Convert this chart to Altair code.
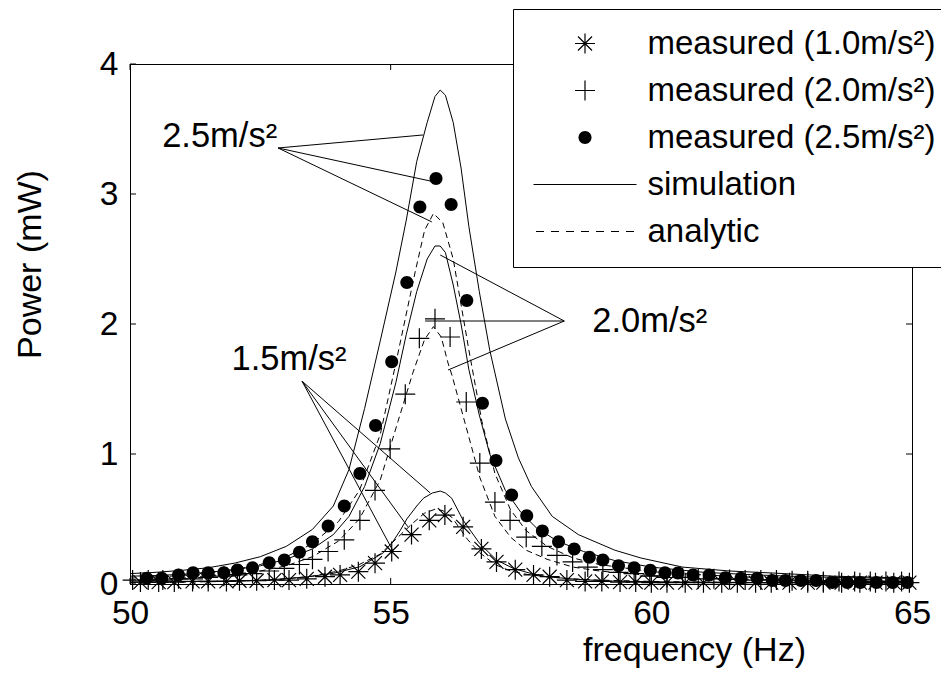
import altair as alt
import pandas as pd

# ---------------- data ----------------
# simulation curves (solid)
sim25_f = [50.0, 50.5, 51.0, 51.5, 52.0, 52.5, 53.0, 53.5, 53.9, 54.2, 54.5, 54.8, 55.1, 55.3, 55.5, 55.7, 55.85, 55.95,
           56.05, 56.2, 56.35, 56.5, 56.7, 56.9, 57.2, 57.45, 57.7, 58.1, 58.6, 59.3, 59.8, 60.6, 61.5, 62.3, 63.5, 65.0]
sim25_p = [0.08, 0.09, 0.105, 0.125, 0.16, 0.21, 0.29, 0.42, 0.6, 0.88, 1.35, 1.87, 2.4, 2.8, 3.25, 3.55, 3.75, 3.8,
           3.76, 3.55, 3.2, 2.75, 2.25, 1.8, 1.27, 0.97, 0.75, 0.52, 0.38, 0.26, 0.2, 0.13, 0.1, 0.085, 0.06, 0.045]

sim20_f = [50.0, 50.5, 51.0, 51.5, 52.0, 52.5, 53.0, 53.5, 53.9, 54.2, 54.5, 54.8, 55.1, 55.3, 55.5, 55.7, 55.85, 55.95,
           56.05, 56.2, 56.35, 56.5, 56.7, 56.9, 57.2, 57.5, 57.8, 58.2, 58.7, 59.3, 60.0, 61.0, 62.0, 63.0, 65.0]
sim20_p = [0.06, 0.065, 0.075, 0.09, 0.11, 0.14, 0.19, 0.27, 0.38, 0.52, 0.75, 1.08, 1.55, 1.92, 2.25, 2.5, 2.6, 2.6,
           2.55, 2.3, 2.0, 1.65, 1.3, 1.0, 0.72, 0.55, 0.43, 0.33, 0.25, 0.18, 0.13, 0.09, 0.07, 0.055, 0.04]

sim10_f = [50.0, 51.0, 52.0, 52.63, 53.4, 53.9, 54.41, 54.86, 55.05, 55.18, 55.31, 55.5, 55.63, 55.8, 55.95, 56.05,
           56.17, 56.39, 56.71, 57.03, 57.35, 57.7, 57.99, 58.6, 59.27, 60.5, 62.0, 65.0]
sim10_p = [0.015, 0.018, 0.024, 0.03, 0.055, 0.082, 0.133, 0.24, 0.33, 0.41, 0.5, 0.6, 0.66, 0.7, 0.715, 0.7,
           0.66, 0.49, 0.31, 0.185, 0.12, 0.08, 0.056, 0.035, 0.022, 0.015, 0.012, 0.008]

# analytic curves (dashed)
ana25_f = [50.0, 51.0, 52.0, 52.5, 53.0, 53.5, 54.0, 54.4, 54.8, 55.1, 55.47, 55.65, 55.82, 56.0, 56.2, 56.5, 56.75,
           57.0, 57.3, 57.6, 58.0, 58.5, 59.0, 60.0, 61.0, 62.0, 63.0, 65.0]
ana25_p = [0.045, 0.065, 0.11, 0.15, 0.21, 0.31, 0.48, 0.72, 1.15, 1.7, 2.4, 2.72, 2.85, 2.78, 2.5, 1.8, 1.25,
           0.85, 0.57, 0.41, 0.29, 0.2, 0.15, 0.095, 0.07, 0.05, 0.04, 0.03]

ana20_f = [50.0, 51.0, 52.0, 52.5, 53.0, 53.5, 54.0, 54.4, 54.8, 55.14, 55.43, 55.65, 55.82, 55.97, 56.1, 56.18,
           56.48, 56.71, 57.0, 57.3, 57.6, 58.0, 58.5, 59.0, 60.0, 61.0, 62.0, 63.0, 65.0]
ana20_p = [0.03, 0.045, 0.075, 0.1, 0.14, 0.21, 0.33, 0.5, 0.8, 1.25, 1.63, 1.88, 1.98, 1.9, 1.7, 1.6,
           1.16, 0.82, 0.52, 0.36, 0.26, 0.19, 0.13, 0.1, 0.065, 0.045, 0.035, 0.028, 0.02]

ana10_f = [50.0, 52.0, 53.0, 53.5, 54.0, 54.4, 54.8, 55.14, 55.43, 55.65, 55.85, 56.0, 56.18, 56.48, 56.71, 57.0,
           57.3, 57.6, 58.0, 58.5, 59.0, 60.0, 62.0, 65.0]
ana10_p = [0.01, 0.02, 0.04, 0.06, 0.1, 0.15, 0.23, 0.36, 0.47, 0.545, 0.575, 0.565, 0.51, 0.34, 0.24, 0.15,
           0.1, 0.075, 0.055, 0.04, 0.03, 0.02, 0.01, 0.006]

# measured points
m10_f = [50.2, 50.55, 50.85, 51.2, 51.5, 51.85, 52.1, 52.43, 52.77, 53.05, 53.39, 53.74, 54.03, 54.38, 54.70, 55.02,
         55.40, 55.74, 56.04, 56.39, 56.74, 57.03, 57.39, 57.74, 58.05, 58.38, 58.73, 59.05, 59.4, 59.7, 60.0, 60.3,
         60.65, 61.0, 61.35, 61.65, 62.0, 62.3, 62.65, 63.0, 63.3, 63.65, 64.0, 64.3, 64.65, 64.95]
m10_p = [0.015, 0.015, 0.015, 0.02, 0.02, 0.02, 0.025, 0.025, 0.03, 0.03, 0.04, 0.056, 0.07, 0.095, 0.16, 0.25,
         0.38, 0.49, 0.53, 0.44, 0.27, 0.17, 0.11, 0.07, 0.056, 0.03, 0.02, 0.02, 0.015, 0.015, 0.01, 0.01,
         0.01, 0.01, 0.01, 0.01, 0.01, 0.01, 0.01, 0.01, 0.01, 0.01, 0.01, 0.01, 0.01, 0.01]

m20_f = [50.05, 50.35, 50.63, 50.93, 51.21, 51.50, 51.80, 52.06, 52.35, 52.67, 52.96, 53.25, 53.50, 53.80, 54.11,
         54.41, 54.70, 54.99, 55.28, 55.55, 55.85, 56.14, 56.45, 56.71, 57.00, 57.29, 57.60, 57.90, 58.19, 58.49,
         58.78, 59.07, 59.37, 59.67, 59.97, 60.3, 60.6, 60.9, 61.2, 61.5, 61.8, 62.1, 62.4, 62.7, 63.0, 63.3, 63.6,
         63.9, 64.2, 64.5, 64.8]
m20_p = [0.03, 0.03, 0.03, 0.04, 0.04, 0.05, 0.06, 0.07, 0.08, 0.10, 0.12, 0.15, 0.19, 0.25, 0.34,
         0.49, 0.72, 1.04, 1.46, 1.89, 2.04, 1.90, 1.40, 0.93, 0.63, 0.49, 0.36, 0.29, 0.22, 0.17,
         0.13, 0.11, 0.09, 0.08, 0.06, 0.05, 0.05, 0.04, 0.04, 0.035, 0.03, 0.03, 0.03, 0.025, 0.025, 0.02, 0.02,
         0.02, 0.02, 0.02, 0.02]

m25_f = [50.32, 50.61, 50.93, 51.21, 51.50, 51.80, 52.06, 52.35, 52.67, 52.96, 53.25, 53.50, 53.80, 54.11, 54.41,
         54.71, 55.02, 55.31, 55.56, 55.87, 56.16, 56.46, 56.76, 57.02, 57.32, 57.61, 57.91, 58.22, 58.52, 58.81,
         59.07, 59.37, 59.67, 59.98, 60.26, 60.51, 60.80, 61.11, 61.42, 61.72, 62.03, 62.32, 62.57, 62.87, 63.16,
         63.47, 63.76, 64.01, 64.32, 64.63, 64.91]
m25_p = [0.044, 0.044, 0.069, 0.087, 0.087, 0.087, 0.108, 0.125, 0.164, 0.185, 0.244, 0.325, 0.446, 0.60, 0.85,
         1.22, 1.71, 2.32, 2.90, 3.12, 2.92, 2.18, 1.39, 0.95, 0.685, 0.525, 0.408, 0.325, 0.269, 0.205,
         0.185, 0.141, 0.125, 0.105, 0.087, 0.085, 0.069, 0.069, 0.049, 0.044, 0.044, 0.026, 0.026, 0.026, 0.026,
         0.012, 0.012, 0.012, 0.012, 0.012, 0.012]

# annotation labels and leader lines
ann_text = ["2.5m/s\u00b2", "2.0m/s\u00b2", "1.5m/s\u00b2"]
ann_x = [51.72, 59.97, 53.05]
ann_y = [3.44, 2.015, 1.72]
lead_x = [52.84, 52.84, 52.84, 58.33, 58.33, 58.33, 53.3, 53.3, 53.3]
lead_y = [3.354, 3.354, 3.354, 2.023, 2.023, 2.023, 1.56, 1.56, 1.56]
lead_x2 = [55.62, 55.85, 55.79, 55.95, 55.66, 56.10, 55.76, 55.33, 55.05]
lead_y2 = [3.454, 3.092, 2.785, 2.531, 2.023, 1.646, 0.70, 0.44, 0.25]

x_ticks = [50, 55, 60, 65]
y_ticks = [0, 1, 2, 3, 4]

legend_labels = ["measured (1.0m/s\u00b2)", "measured (2.0m/s\u00b2)", "measured (2.5m/s\u00b2)", "simulation", "analytic"]
# marker / legend glyphs as filled outlines (unit = 10 px)
legend_paths = [
    "M-1,-0.06H1V0.06H-1Z M-0.06,-1H0.06V1H-0.06Z "
    "M-0.658,-0.742L0.742,0.658L0.658,0.742L-0.742,-0.658Z "
    "M-0.742,0.658L0.658,-0.742L0.742,-0.658L-0.658,0.742Z",
    "M-1,-0.06H1V0.06H-1Z M-0.06,-1H0.06V1H-0.06Z",
    "M-0.65,0A0.65,0.65,0,1,0,0.65,0A0.65,0.65,0,1,0,-0.65,0Z",
    "M-5.15,-0.06H5.15V0.06H-5.15Z",
    "M-4.9,-0.06H-4.1V0.06H-4.9Z M-3.4,-0.06H-2.6V0.06H-3.4Z M-1.9,-0.06H-1.1V0.06H-1.9Z "
    "M-0.4,-0.06H0.4V0.06H-0.4Z M1.1,-0.06H1.9V0.06H1.1Z M2.6,-0.06H3.4V0.06H2.6Z M4.1,-0.06H4.9V0.06H4.1Z",
]

# ---------------- tables ----------------
def curve(name, f, p):
    return pd.DataFrame({"f": f, "p": p, "series": name})

sim_df = pd.concat([curve("s25", sim25_f, sim25_p), curve("s20", sim20_f, sim20_p), curve("s10", sim10_f, sim10_p)])
ana_df = pd.concat([curve("a25", ana25_f, ana25_p), curve("a20", ana20_f, ana20_p), curve("a10", ana10_f, ana10_p)])
meas_df = pd.concat([curve(legend_labels[0], m10_f, m10_p), curve(legend_labels[1], m20_f, m20_p),
                     curve(legend_labels[2], m25_f, m25_p)])
ann_df = pd.DataFrame({"x": ann_x, "y": ann_y, "t": ann_text})
lead_df = pd.DataFrame({"x": lead_x, "y": lead_y, "x2": lead_x2, "y2": lead_y2})
xt_df = pd.DataFrame({"v": x_ticks})
yt_df = pd.DataFrame({"v": y_ticks})

FONT = "Liberation Sans"
W, H = 782, 520

xscale = alt.Scale(domain=[50, 65], nice=False, zero=False)
yscale = alt.Scale(domain=[0, 4], nice=False)

xaxis = alt.Axis(values=x_ticks, format="d", grid=False, ticks=False, tickSize=0, labelFontSize=33.5,
                 labelFont=FONT, labelColor="black", labelPadding=13, domainColor="black",
                 title="frequency (Hz)", titleFontSize=34, titleFont=FONT, titleFontWeight="normal",
                 titleColor="black", titleX=564, titleY=76, titleAlign="center", titleBaseline="alphabetic",
                 labelFlush=False)
yaxis = alt.Axis(values=y_ticks, format="d", grid=False, ticks=False, tickSize=0, labelFontSize=33.5,
                 labelFont=FONT, labelColor="black", labelPadding=12, domainColor="black", title="Power (mW)",
                 titleFontSize=34, titleFont=FONT, titleFontWeight="normal", titleColor="black",
                 titleX=-90, titleY=200, titleAlign="center", titleBaseline="alphabetic", titleAngle=270,
                 labelFlush=False)

base_x = alt.X("f:Q", scale=xscale, axis=xaxis)
base_y = alt.Y("p:Q", scale=yscale, axis=yaxis)

sim_layer = alt.Chart(sim_df).mark_line(color="black", strokeWidth=1).encode(
    x=base_x, y=base_y, detail="series:N")
ana_layer = alt.Chart(ana_df).mark_line(color="black", strokeWidth=1, strokeDash=[6, 4]).encode(
    x=alt.X("f:Q", scale=xscale), y=alt.Y("p:Q", scale=yscale), detail="series:N")

meas_layer = alt.Chart(meas_df).mark_point(filled=True, fill="black", opacity=1, fillOpacity=1, size=400,
                                           strokeWidth=0).encode(
    x=alt.X("f:Q", scale=xscale),
    y=alt.Y("p:Q", scale=yscale),
    shape=alt.Shape("series:N", scale=alt.Scale(domain=legend_labels, range=legend_paths),
                    legend=alt.Legend(title=None, orient="none", legendX=383, legendY=-55, padding=18,
                                      fillColor="white", strokeColor="black", labelFontSize=33,
                                      labelFont=FONT, labelColor="black", symbolOffset=37.5, labelOffset=46,
                                      rowPadding=13, symbolSize=400, symbolFillColor="black",
                                      symbolStrokeWidth=0, symbolOpacity=1, labelLimit=600)),
)

lead_layer = alt.Chart(lead_df).mark_rule(color="black", strokeWidth=1).encode(
    x=alt.X("x:Q", scale=xscale), y=alt.Y("y:Q", scale=yscale),
    x2="x2:Q", y2="y2:Q")

ann_layer = alt.Chart(ann_df).mark_text(fontSize=34.5, font=FONT, color="black", align="center",
                                        baseline="middle").encode(
    x=alt.X("x:Q", scale=xscale), y=alt.Y("y:Q", scale=yscale), text="t:N")

tick_bottom = alt.Chart(xt_df).mark_rule(color="black", strokeWidth=1).encode(
    x=alt.X("v:Q", scale=xscale), y=alt.value(H), y2=alt.value(H - 6))
tick_top = alt.Chart(xt_df).mark_rule(color="black", strokeWidth=1).encode(
    x=alt.X("v:Q", scale=xscale), y=alt.value(0), y2=alt.value(6))
tick_left = alt.Chart(yt_df).mark_rule(color="black", strokeWidth=1).encode(
    y=alt.Y("v:Q", scale=yscale), x=alt.value(0), x2=alt.value(6))
tick_right = alt.Chart(yt_df).mark_rule(color="black", strokeWidth=1).encode(
    y=alt.Y("v:Q", scale=yscale), x=alt.value(W), x2=alt.value(W - 6))

chart = alt.layer(
    sim_layer, ana_layer, tick_bottom, tick_top, tick_left, tick_right, lead_layer, ann_layer, meas_layer
).properties(
    width=W, height=H,
    autosize=alt.AutoSizeParams(type="none"),
    padding={"left": 122, "top": 56, "right": 29, "bottom": 102},
    background="white",
).configure_view(stroke="black", strokeWidth=1)

chart.save("out.html", embed_options={"renderer": "svg", "actions": False})
